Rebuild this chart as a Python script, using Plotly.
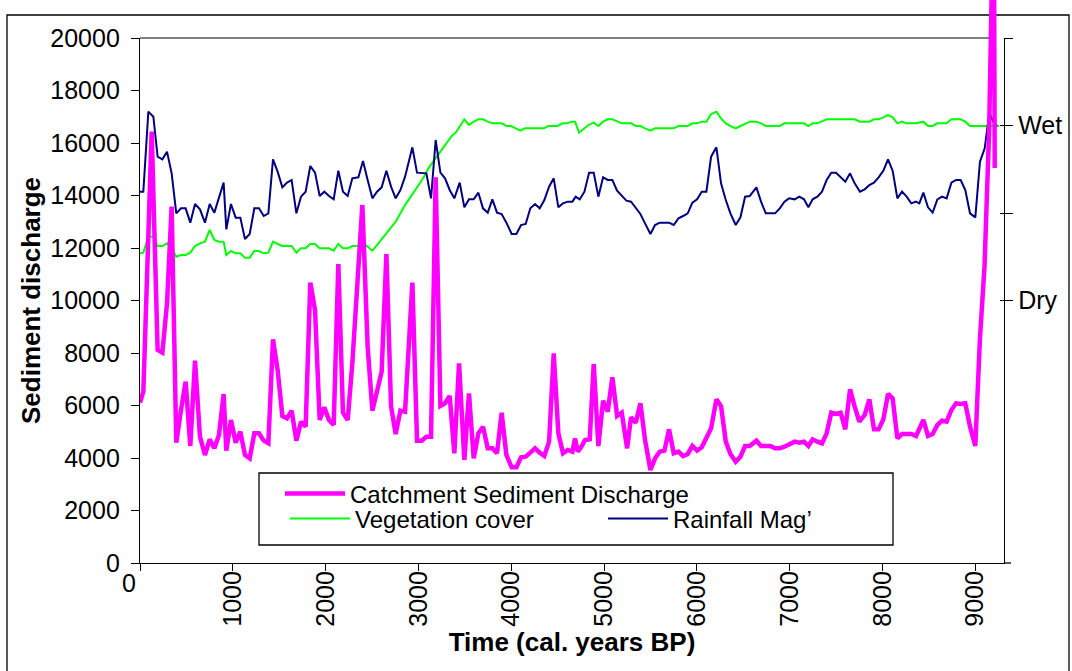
import plotly.graph_objects as go

# ---------------- data ----------------
sed_years = [0, 36, 126, 190, 241, 291, 341, 391, 442, 492, 542, 593, 646, 700, 751, 801, 851, 901, 930, 980,
             1031, 1081, 1131, 1182, 1232, 1282, 1333, 1383, 1433, 1483, 1534, 1584, 1634, 1685, 1735, 1785, 1835,
             1886, 1936, 1986, 2037, 2087, 2137, 2187, 2238, 2288, 2396, 2453, 2504, 2554, 2604, 2655, 2705, 2755,
             2806, 2856, 2935, 2985, 3035, 3086, 3136, 3186, 3237, 3287, 3337, 3387, 3438, 3495, 3545, 3596, 3646,
             3696, 3747, 3797, 3847, 3897, 3948, 4005, 4056, 4106, 4156, 4206, 4257, 4307, 4357, 4408, 4458, 4508,
             4558, 4609, 4659, 4688, 4717, 4760, 4796, 4846, 4889, 4939, 4990, 5040, 5090, 5141, 5191, 5249, 5291,
             5342, 5392, 5442, 5500, 5550, 5600, 5651, 5701, 5751, 5802, 5852, 5902, 5952, 6003, 6053, 6103, 6154,
             6211, 6261, 6312, 6362, 6419, 6470, 6520, 6570, 6642, 6692, 6743, 6793, 6843, 6894, 6944, 6994, 7054,
             7105, 7155, 7202, 7248, 7299, 7349, 7399, 7449, 7500, 7550, 7600, 7651, 7701, 7751, 7809, 7859, 7909,
             7959, 8010, 8060, 8110, 8161, 8211, 8261, 8311, 8362, 8441, 8491, 8541, 8592, 8642, 8692, 8743, 8793,
             8843, 8893, 8944, 9001, 9050, 9100, 9150, 9200, 9210]
sed_values = [6108, 6527, 16432, 8115, 8013, 9892, 13575, 4584, 5829, 6908, 4457, 7708, 4813, 4115, 4711, 4369, 4877,
              6438, 4280, 5448, 4584, 5003, 4115, 3987, 4940, 4940, 4660, 4559, 8521, 7353, 5600, 5511, 5804, 4660,
              5384, 5194, 10680, 9638, 5448, 5930, 5448, 5257, 11390, 5727, 5448, 7607, 13638, 8241, 5803, 6527,
              7289, 11772, 5981, 4914, 5803, 5765, 10680, 4660, 4660, 4813, 4813, 14692, 5981, 6083, 6362, 4178,
              7607, 3924, 6464, 3987, 4940, 5194, 4369, 4369, 4178, 5727, 4115, 3645, 3645, 4026, 4051, 4204, 4369,
              4204, 4077, 4623, 7988, 4940, 4178, 4305, 4241, 4749, 4241, 4457, 4686, 4711, 7581, 4457, 6184, 5765,
              7073, 5600, 5727, 4369, 5549, 5346, 6083, 4686, 3543, 3987, 4241, 4280, 5092, 4178, 4241, 4077, 4153,
              4457, 4280, 4407, 4749, 5130, 6235, 5981, 4623, 4153, 3860, 4051, 4457, 4457, 4660, 4457, 4457, 4457,
              4369, 4369, 4432, 4534, 4623, 4585, 4623, 4457, 4711, 4623, 4559, 4940, 5727, 5676, 5727, 5092, 6616,
              5956, 5384, 5638, 6235, 5092, 5092, 5473, 6438, 6273, 4749, 4914, 4914, 4914, 4838, 5448, 4838, 4914,
              5257, 5422, 5384, 5829, 6083, 6057, 6083, 5194, 4457, 8500, 11300, 16500, 26000, 15050]

veg_years = [0, 36, 90, 144, 190, 241, 291, 341, 391, 442, 492, 542, 593, 646, 700, 751, 801, 851, 901, 930, 980,
             1031, 1081, 1131, 1182, 1232, 1282, 1333, 1383, 1433, 1483, 1534, 1584, 1634, 1685, 1735, 1785, 1835,
             1886, 1936, 1986, 2037, 2087, 2137, 2187, 2238, 2288, 2353, 2403, 2453, 2504, 2554, 2604, 2655, 2705,
             2755, 2806, 2856, 2906, 2956, 3006, 3057, 3107, 3157, 3208, 3258, 3308, 3359, 3402, 3445, 3495, 3545,
             3596, 3646, 3696, 3747, 3797, 3847, 3897, 3948, 3998, 4048, 4099, 4149, 4199, 4250, 4300, 4350, 4400,
             4451, 4501, 4551, 4601, 4652, 4688, 4731, 4781, 4832, 4889, 4939, 4990, 5040, 5090, 5141, 5191, 5241,
             5291, 5342, 5392, 5442, 5500, 5550, 5600, 5651, 5701, 5751, 5802, 5852, 5902, 5952, 6003, 6053, 6103,
             6154, 6211, 6261, 6312, 6362, 6419, 6470, 6520, 6570, 6642, 6692, 6743, 6793, 6843, 6894, 6944, 6994,
             7044, 7105, 7155, 7202, 7248, 7299, 7349, 7399, 7449, 7500, 7550, 7600, 7651, 7701, 7758, 7809, 7859,
             7909, 7959, 8010, 8060, 8110, 8161, 8211, 8261, 8311, 8362, 8441, 8491, 8541, 8592, 8642, 8692, 8743,
             8793, 8843, 8893, 8944, 9001, 9051, 9102, 9152, 9202, 9256]
veg_values = [11797, 11822, 12432, 12432, 12076, 12076, 12178, 11987, 11670, 11733, 11733, 11822, 12076, 12178,
              12241, 12686, 12305, 12241, 12241, 11733, 11886, 11797, 11797, 11632, 11632, 11886, 11886, 11797,
              11822, 12241, 12152, 12076, 12076, 12076, 11822, 11987, 11987, 12152, 12152, 11987, 11987, 11987,
              11898, 12152, 11987, 11987, 12076, 12076, 12203, 12051, 11898, 12114, 12330, 12559, 12787, 13003,
              13321, 13638, 13892, 14146, 14400, 14692, 15035, 15289, 15543, 15759, 16051, 16267, 16394, 16648,
              16902, 16686, 16813, 16902, 16902, 16813, 16749, 16749, 16749, 16648, 16648, 16559, 16470, 16559,
              16559, 16559, 16559, 16559, 16648, 16648, 16648, 16749, 16749, 16813, 16813, 16394, 16521, 16686,
              16775, 16648, 16813, 16902, 16902, 16813, 16749, 16749, 16749, 16648, 16648, 16559, 16470, 16559,
              16559, 16559, 16559, 16559, 16648, 16648, 16648, 16749, 16749, 16813, 16813, 17105, 17194, 16940,
              16749, 16648, 16559, 16648, 16724, 16813, 16813, 16749, 16648, 16648, 16648, 16648, 16749, 16749,
              16749, 16749, 16749, 16648, 16749, 16749, 16813, 16902, 16902, 16902, 16902, 16902, 16902, 16902,
              16813, 16813, 16813, 16902, 16902, 16978, 17067, 16978, 16749, 16813, 16749, 16749, 16749, 16813,
              16648, 16648, 16749, 16749, 16749, 16902, 16902, 16902, 16813, 16648, 16648, 16648, 16648, 16648,
              16648, 16648]

rain_years = [0, 36, 90, 144, 190, 241, 291, 341, 391, 442, 492, 542, 593, 646, 700, 751, 801, 851, 901, 930, 980,
              1031, 1081, 1131, 1182, 1232, 1282, 1333, 1383, 1433, 1483, 1534, 1584, 1634, 1685, 1735, 1785, 1835,
              1886, 1936, 1986, 2037, 2087, 2137, 2187, 2238, 2288, 2353, 2403, 2453, 2504, 2554, 2604, 2655, 2705,
              2755, 2806, 2856, 2935, 2985, 3035, 3086, 3136, 3186, 3237, 3287, 3337, 3387, 3445, 3495, 3545, 3596,
              3646, 3696, 3747, 3797, 3847, 3897, 3948, 4005, 4056, 4106, 4156, 4206, 4257, 4307, 4357, 4408, 4458,
              4508, 4558, 4609, 4659, 4695, 4738, 4789, 4839, 4889, 4939, 4990, 5040, 5090, 5141, 5191, 5241, 5291,
              5342, 5392, 5442, 5500, 5550, 5600, 5651, 5701, 5751, 5802, 5852, 5902, 5952, 6003, 6053, 6103, 6154,
              6211, 6261, 6312, 6362, 6419, 6470, 6520, 6570, 6642, 6692, 6743, 6793, 6843, 6894, 6944, 6994, 7054,
              7105, 7155, 7202, 7248, 7299, 7349, 7399, 7449, 7500, 7550, 7600, 7651, 7701, 7758, 7809, 7859, 7909,
              7959, 8010, 8060, 8110, 8161, 8211, 8261, 8311, 8362, 8398, 8441, 8491, 8541, 8592, 8642, 8692, 8743,
              8793, 8843, 8893, 8944, 9001, 9051, 9102, 9152, 9202, 9235]
rain_values = [14146, 14146, 17194, 17003, 15480, 15378, 15670, 14844, 13321, 13511, 13511, 12965, 13676, 13473,
               12965, 13676, 13346, 13892, 14489, 12711, 13676, 13156, 13156, 12343, 12534, 13511, 13511, 13219,
               13321, 15378, 14908, 14311, 14489, 14591, 13321, 13956, 14146, 15124, 14870, 13981, 14146, 13981,
               13854, 14946, 14146, 13981, 14654, 14692, 15314, 14591, 13892, 14146, 14311, 14946, 14337, 13892,
               14210, 14718, 15835, 14870, 14870, 14845, 13892, 16114, 14870, 14654, 14210, 13892, 14489, 13549,
               13854, 13854, 14108, 13511, 13346, 13854, 13346, 13295, 12965, 12534, 12534, 12876, 12914, 13511,
               13676, 13511, 13829, 14337, 14654, 13549, 13702, 13765, 13765, 13956, 13854, 14146, 14870, 14870,
               13956, 14692, 14591, 14591, 14184, 13981, 13803, 13765, 13511, 13295, 12940, 12534, 12876, 12965,
               12965, 12965, 12876, 13130, 13219, 13321, 13727, 13854, 14146, 14146, 15480, 15835, 14464, 13829,
               13321, 12876, 13168, 13956, 13981, 14311, 13765, 13321, 13321, 13321, 13511, 13765, 13892, 13854,
               13956, 13854, 13549, 13854, 13956, 14146, 14591, 14870, 14870, 14692, 14527, 14845, 14464, 14146,
               14235, 14400, 14489, 14692, 14946, 15378, 14946, 13892, 14146, 13956, 13702, 13765, 13702, 14108,
               13549, 13346, 13854, 13956, 13892, 14489, 14591, 14591, 14210, 13321, 13168, 15289, 15797, 17156,
               16749, 16650]

x_tick_values = [0, 1000, 2000, 3000, 4000, 5000, 6000, 7000, 8000, 9000]
x_tick_labels = ["", "1000", "2000", "3000", "4000", "5000", "6000", "7000", "8000", "9000"]
y_tick_values = [0, 2000, 4000, 6000, 8000, 10000, 12000, 14000, 16000, 18000, 20000]
y_tick_labels = ["0", "2000", "4000", "6000", "8000", "10000", "12000", "14000", "16000", "18000", "20000"]
y2_tick_values = [10000, 13333.33, 16666.67, 20000]
y2_tick_labels = ["Dry", "", "Wet", ""]

# ---------------- layout geometry ----------------
W, H = 1072, 671
ML, MR, MT, MB = 140, 68, 0, 108
plot_w = W - ML - MR            # 864
plot_h = H - MT - MB            # 563
top_px = 38                     # pixel row of the 20000 line
y_dom_top = (plot_h - top_px) / plot_h
Y_MAX = 20000
X_MAX = 9310

FONT = "Arial, 'Liberation Sans', sans-serif"


def px_x(px):
    return (px - ML) / plot_w


def px_y(py):
    return (plot_h - py) / plot_h


fig = go.Figure()

fig.add_trace(go.Scatter(
    x=sed_years, y=sed_values, mode="lines", name="Catchment Sediment Discharge",
    line=dict(color="#FF00FF", width=4.5), xaxis="x", yaxis="y3", legend="legend"))
# empty helpers so that the left axis and the inner right-axis ticks are drawn
fig.add_trace(go.Scatter(
    x=[None], y=[None], mode="lines", showlegend=False, hoverinfo="skip",
    line=dict(color="rgba(0,0,0,0)", width=0), xaxis="x", yaxis="y"))
fig.add_trace(go.Scatter(
    x=[None], y=[None], mode="lines", showlegend=False, hoverinfo="skip",
    line=dict(color="rgba(0,0,0,0)", width=0), xaxis="x", yaxis="y4"))
fig.add_trace(go.Scatter(
    x=veg_years, y=veg_values, mode="lines", name="Vegetation cover",
    line=dict(color="#00FF00", width=2), xaxis="x", yaxis="y2", legend="legend2"))
fig.add_trace(go.Scatter(
    x=rain_years, y=rain_values, mode="lines", name="Rainfall Mag’",
    line=dict(color="#000080", width=2), xaxis="x", yaxis="y2", legend="legend3"))

axis_common = dict(showgrid=False, zeroline=False, showline=True, linecolor="black",
                   linewidth=1.3, tickcolor="black", tickwidth=1.3)

leg_common = dict(bgcolor="rgba(0,0,0,0)", borderwidth=0, xanchor="left", yanchor="middle",
                  font=dict(size=24, family=FONT, color="black"), itemwidth=60)

fig.update_layout(
    width=W, height=H,
    margin=dict(l=ML, r=MR, t=MT, b=MB, autoexpand=False),
    paper_bgcolor="white", plot_bgcolor="rgba(0,0,0,0)",
    font=dict(family=FONT, color="black", size=24),
    xaxis=dict(range=[0, X_MAX], domain=[0, 1], anchor="y",
               tickvals=x_tick_values, ticktext=x_tick_labels, tickangle=-90,
               ticks="outside", ticklen=7, tickfont=dict(size=25), ticklabelstandoff=-10,
               title=dict(text="Time (cal. years BP)", font=dict(size=26, weight="bold"), standoff=0),
               **axis_common),
    yaxis=dict(range=[0, Y_MAX], domain=[0, y_dom_top], anchor="x",
               tickvals=y_tick_values, ticktext=y_tick_labels, ticks="outside", ticklen=8,
               tickfont=dict(size=25), ticklabelstandoff=6,
               title=dict(text="Sediment discharge", font=dict(size=26, weight="bold"), standoff=2),
               **axis_common),
    yaxis2=dict(range=[0, Y_MAX], overlaying="y", side="right", anchor="x",
                tickvals=y2_tick_values, ticktext=y2_tick_labels, ticks="outside", ticklen=8,
                tickfont=dict(size=25), **axis_common),
    yaxis4=dict(range=[0, Y_MAX], overlaying="y", side="right", anchor="x",
                tickvals=y2_tick_values, ticks="inside", ticklen=4, showticklabels=False,
                showline=False, showgrid=False, zeroline=False, tickcolor="black", tickwidth=1.3),
    yaxis3=dict(range=[0, Y_MAX / y_dom_top], domain=[0, 1], anchor="x", visible=False,
                fixedrange=True),
    legend=dict(x=px_x(280), y=px_y(494), **leg_common),
    legend2=dict(x=px_x(285), y=px_y(519), **leg_common),
    legend3=dict(x=px_x(603), y=px_y(519), **leg_common),
    showlegend=True,
)

# chart-area border, legend frame, grey plot-area top edge, x-axis line overhang
fig.add_shape(type="rect", xref="paper", yref="paper", layer="below",
              x0=px_x(7), x1=px_x(1069), y0=px_y(690), y1=px_y(15),
              line=dict(color="black", width=1.3), fillcolor="rgba(0,0,0,0)")
fig.add_shape(type="rect", xref="paper", yref="paper", layer="below",
              x0=px_x(259), x1=px_x(893), y0=px_y(545), y1=px_y(473),
              line=dict(color="black", width=1.3), fillcolor="white")
fig.add_shape(type="line", xref="paper", yref="paper", layer="below",
              x0=0, x1=px_x(993), y0=y_dom_top, y1=y_dom_top,
              line=dict(color="#808080", width=2))
fig.add_shape(type="line", xref="paper", yref="paper", layer="below",
              x0=1, x1=px_x(1011), y0=0, y1=0,
              line=dict(color="black", width=1.3))

# upright "0" at the x-axis origin
fig.add_annotation(x=0, xref="x", y=px_y(583), yref="paper",
                   text="0", showarrow=False, xanchor="right", yanchor="middle",
                   xshift=-2, font=dict(size=25, family=FONT))

fig.write_html("out.html")
